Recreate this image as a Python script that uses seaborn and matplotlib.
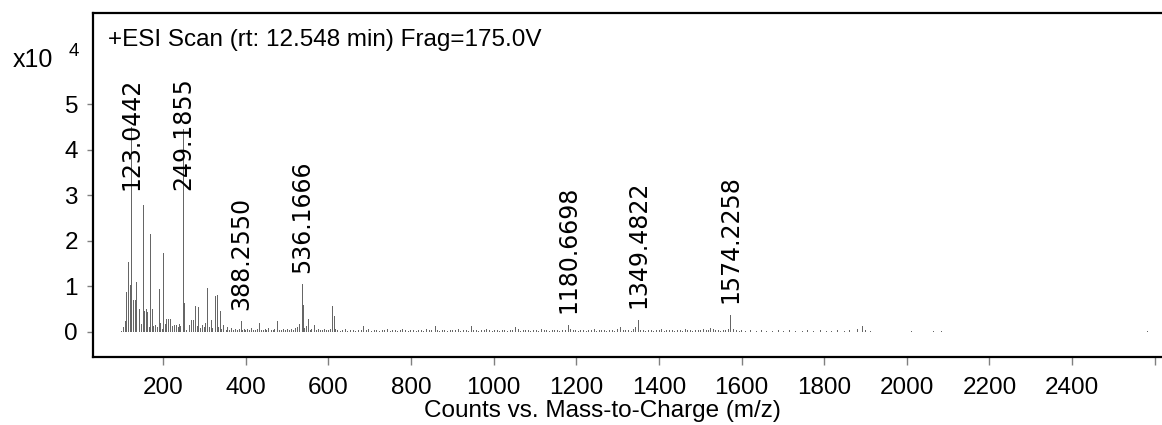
import numpy as np
import pandas as pd
import matplotlib
matplotlib.use("Agg")
import matplotlib.pyplot as plt
import seaborn as sns

# ---------------- data (intensities in units of 10^4 counts) ----------------
label_mz = [123.0442, 249.1855, 388.2550, 536.1666, 1180.6698, 1349.4822, 1574.2258]
label_int = [4.50, 4.45, 0.24, 1.05, 0.16, 0.27, 0.38]
label_text = ["123.0442", "249.1855", "388.2550", "536.1666",
              "1180.6698", "1349.4822", "1574.2258"]

peak_mz = [99.7, 104.0, 107.7, 111.5, 114.8, 120.5, 128.8, 131.8, 135.0, 142.3,
           147.0, 152.0, 155.0, 159.2, 162.6, 166.5, 170.0, 173.8, 177.0, 181.0,
           186.0, 190.7, 194.0, 198.0, 201.4, 205.0, 208.6, 212.0, 216.5, 223.0,
           228.0, 232.0, 236.0, 239.0, 243.0, 252.5, 257.0, 264.0, 269.0, 272.5,
           278.8, 283.0, 286.0, 291.0, 295.0, 299.0, 303.0, 307.0, 312.0, 316.0,
           320.0, 325.5, 330.4, 334.0, 338.3, 342.0, 347.0, 352.0, 356.0, 361.0,
           366.0, 371.0, 376.0, 380.0, 384.0, 392.0, 396.0, 400.0, 405.0, 410.0,
           414.0, 418.0, 423.0, 428.0, 434.0, 438.0, 443.0, 447.0, 451.0, 456.0,
           461.0, 466.0, 470.0, 477.0, 481.0, 486.0, 490.0, 495.0, 500.0, 505.0,
           510.0, 515.0, 520.0, 525.0, 530.0, 539.5, 543.0, 547.0, 551.3, 556.0,
           560.0, 567.0, 572.0, 577.0, 581.0, 585.0, 590.0, 595.0, 600.0, 604.0,
           609.4, 613.5, 617.0, 685.4, 858.0, 945.0, 1052.0, 1308.0, 1344.0, 1525.0,
           1567.0, 1893.0]
peak_int = [0.03, 0.10, 0.23, 0.88, 1.54, 1.03, 0.71, 0.70, 1.09, 0.50,
            0.17, 2.79, 0.46, 0.50, 0.43, 0.10, 2.16, 0.50, 0.13, 0.15,
            0.10, 0.95, 0.20, 0.07, 1.73, 0.17, 0.28, 0.28, 0.28, 0.14,
            0.15, 0.15, 0.10, 0.17, 0.13, 0.63, 0.05, 0.15, 0.27, 0.27,
            0.56, 0.12, 0.54, 0.08, 0.15, 0.10, 0.19, 0.97, 0.10, 0.27,
            0.08, 0.78, 0.80, 0.10, 0.45, 0.06, 0.15, 0.05, 0.10, 0.05,
            0.08, 0.04, 0.06, 0.05, 0.07, 0.05, 0.07, 0.04, 0.06, 0.05,
            0.08, 0.04, 0.05, 0.06, 0.20, 0.05, 0.04, 0.06, 0.05, 0.08,
            0.04, 0.05, 0.06, 0.24, 0.05, 0.04, 0.06, 0.05, 0.07, 0.04,
            0.06, 0.05, 0.08, 0.10, 0.18, 0.59, 0.08, 0.12, 0.28, 0.05,
            0.06, 0.16, 0.05, 0.07, 0.04, 0.05, 0.06, 0.04, 0.05, 0.06,
            0.56, 0.35, 0.06, 0.14, 0.13, 0.12, 0.10, 0.10, 0.10, 0.08,
            0.06, 0.12]

noise_mz = [622, 628, 634, 641, 647, 653, 660, 666, 672, 679,
            692, 698, 704, 711, 717, 723, 730, 736, 742, 749,
            755, 761, 768, 774, 780, 787, 793, 799, 806, 812,
            818, 825, 831, 837, 844, 850, 863, 869, 876, 882,
            888, 895, 901, 907, 914, 920, 926, 933, 939, 951,
            958, 964, 970, 977, 983, 989, 996, 1002, 1008, 1015,
            1021, 1027, 1034, 1040, 1046, 1059, 1065, 1071, 1078, 1084,
            1090, 1097, 1103, 1109, 1116, 1122, 1128, 1135, 1141, 1147,
            1154, 1160, 1166, 1173, 1186, 1192, 1198, 1205, 1211, 1217,
            1224, 1230, 1236, 1243, 1249, 1255, 1262, 1268, 1274, 1281,
            1287, 1293, 1300, 1314, 1320, 1326, 1333, 1339, 1356, 1362,
            1368, 1375, 1381, 1387, 1394, 1400, 1406, 1413, 1419, 1425,
            1432, 1438, 1444, 1451, 1457, 1463, 1470, 1476, 1482, 1489,
            1495, 1501, 1508, 1514, 1520, 1531, 1537, 1543, 1550, 1556,
            1562, 1581, 1587, 1594, 1600, 1610, 1622, 1635, 1648, 1660,
            1675, 1690, 1702, 1715, 1730, 1748, 1760, 1775, 1790, 1805,
            1818, 1832, 1848, 1862, 1880, 1900, 1912, 2012, 2065, 2083,
            2583]
noise_int = [0.05, 0.03, 0.04, 0.06, 0.03, 0.04, 0.05, 0.03, 0.04, 0.05,
             0.04, 0.06, 0.03, 0.05, 0.04, 0.03, 0.05, 0.04, 0.06, 0.03,
             0.04, 0.05, 0.03, 0.04, 0.06, 0.04, 0.03, 0.05, 0.04, 0.03,
             0.05, 0.04, 0.03, 0.06, 0.04, 0.05, 0.04, 0.03, 0.05, 0.04,
             0.03, 0.05, 0.04, 0.04, 0.06, 0.03, 0.05, 0.04, 0.03, 0.05,
             0.04, 0.03, 0.05, 0.04, 0.06, 0.04, 0.03, 0.05, 0.04, 0.03,
             0.05, 0.04, 0.03, 0.05, 0.04, 0.06, 0.03, 0.05, 0.04, 0.04,
             0.03, 0.05, 0.04, 0.03, 0.06, 0.04, 0.05, 0.03, 0.04, 0.05,
             0.04, 0.03, 0.05, 0.04, 0.07, 0.05, 0.04, 0.03, 0.05, 0.04,
             0.03, 0.05, 0.04, 0.06, 0.03, 0.04, 0.05, 0.04, 0.03, 0.05,
             0.04, 0.03, 0.06, 0.05, 0.04, 0.05, 0.03, 0.07, 0.05, 0.04,
             0.03, 0.05, 0.04, 0.03, 0.05, 0.04, 0.06, 0.03, 0.04, 0.05,
             0.04, 0.03, 0.05, 0.04, 0.03, 0.06, 0.04, 0.05, 0.03, 0.04,
             0.05, 0.04, 0.06, 0.05, 0.04, 0.07, 0.05, 0.04, 0.03, 0.05,
             0.05, 0.06, 0.04, 0.03, 0.05, 0.03, 0.04, 0.03, 0.04, 0.03,
             0.03, 0.04, 0.03, 0.04, 0.03, 0.03, 0.04, 0.03, 0.05, 0.03,
             0.03, 0.04, 0.03, 0.04, 0.06, 0.04, 0.03, 0.03, 0.03, 0.03,
             0.03]

xtick_values = [200, 400, 600, 800, 1000, 1200, 1400, 1600, 1800, 2000, 2200, 2400, 2600]
xtick_labels = ["200", "400", "600", "800", "1000", "1200", "1400", "1600",
                "1800", "2000", "2200", "2400", ""]
ytick_values = [0, 1, 2, 3, 4, 5]
ytick_labels = ["0", "1", "2", "3", "4", "5"]

title_text = "+ESI Scan (rt: 12.548 min) Frag=175.0V"
xlabel_text = "Counts vs. Mass-to-Charge (m/z)"

# ---------------- plotting ----------------
sns.set_theme(style="ticks")
plt.rcParams["font.family"] = ["Liberation Sans", "DejaVu Sans"]

df = pd.DataFrame({
    "mz": list(label_mz) + list(peak_mz) + list(noise_mz),
    "intensity": list(label_int) + list(peak_int) + list(noise_int),
})

W, H = 1162, 425
fig = plt.figure(figsize=(W / 100, H / 100), dpi=100)
ax = fig.add_axes([93 / W, 68 / H, 1075 / W, 344 / H])

sns.histplot(data=df, x="mz", weights="intensity", binwidth=2.42,
             binrange=(30.0, 2632.0), element="bars", fill=True,
             color="#666666", alpha=1.0, linewidth=0, ax=ax)

ax.set_xlim(30.5, 2632)
ax.set_ylim(-0.55, 7.0)
ax.set_xlabel("")
ax.set_ylabel("")

ax.set_xticks(xtick_values)
ax.set_xticklabels(xtick_labels)
ax.set_yticks(ytick_values)
ax.set_yticklabels(ytick_labels)
ax.tick_params(axis="x", direction="out", length=5.8, width=1.0, color="#808080",
               pad=8.5, labelsize=17.5, labelcolor="black")
ax.tick_params(axis="y", direction="out", length=4.3, width=1.0, color="#808080",
               pad=6.5, labelsize=17.5, labelcolor="black")

for side in ["left", "top", "bottom"]:
    ax.spines[side].set_visible(True)
    ax.spines[side].set_color("black")
    ax.spines[side].set_linewidth(1.6)
ax.spines["right"].set_visible(False)

# peak annotations
label_cap = 3.11
for mz, h, t in zip(label_mz, label_int, label_text):
    ax.text(mz, min(h + 0.25, label_cap), t, rotation=90, ha="center", va="bottom",
            fontsize=17, family=["DejaVu Sans"], color="black")

fig.text(108 / W, 1 - 40 / H, title_text, ha="left", va="center", fontsize=17.5, color="black")
fig.text(13 / W, 1 - 60 / H, "x10", ha="left", va="center", fontsize=18, color="black")
fig.text(74 / W, 1 - 51 / H, "4", ha="center", va="center", fontsize=13.5, color="black")
fig.text(602 / W, 1 - 411 / H, xlabel_text, ha="center", va="center", fontsize=17.5, color="black")

fig.savefig("out.png", dpi=100)
